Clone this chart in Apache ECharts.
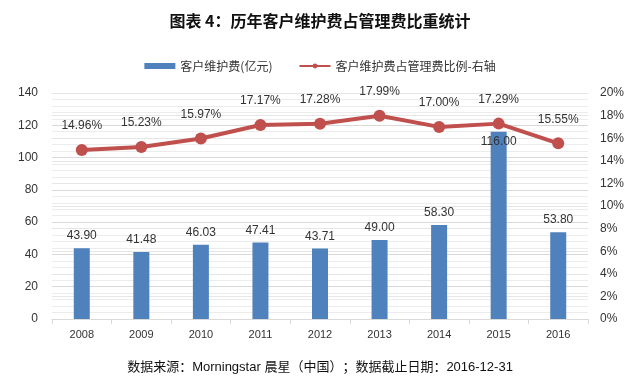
<!DOCTYPE html>
<html>
<head>
<meta charset="utf-8">
<script src="https://cdn.jsdelivr.net/npm/echarts@6/dist/echarts.min.js"></script>
<style>
html,body{margin:0;padding:0;background:#fff;}
#c{width:640px;height:381px;}
</style>
</head>
<body>
<div id="c"></div>
<script>
const categories = ['2008','2009','2010','2011','2012','2013','2014','2015','2016'];
const feeValues = [43.90, 41.48, 46.03, 47.41, 43.71, 49.00, 58.30, 116.00, 53.80];
const ratioValues = [14.96, 15.23, 15.97, 17.17, 17.28, 17.99, 17.00, 17.29, 15.55];
const leftTicks = [0, 140, 20];
const rightTicks = [0, 20, 2];
const titleText = '图表 4：历年客户维护费占管理费比重统计';
const sourceText = '数据来源：Morningstar 晨星（中国）；数据截止日期：2016-12-31';
const seriesNames = ['客户维护费(亿元)', '客户维护费占管理费比例-右轴'];

const FONT = '"Liberation Sans", Arial, "Noto Sans CJK SC", sans-serif';
const chart = echarts.init(document.getElementById('c'));
chart.setOption({
  animation: false,
  textStyle: {fontFamily: FONT},
  title: [
    {text: titleText, left: 'center', top: 8,
     textStyle: {fontSize: 16, fontWeight: 'bold', color: '#111', fontFamily: '"Noto Sans CJK SC", sans-serif'}},
    {text: sourceText, left: 'center', top: 356,
     textStyle: {fontSize: 13, fontWeight: 'normal', color: '#111', fontFamily: FONT}}
  ],
  legend: {
    top: 55, left: 'center', itemGap: 26, itemWidth: 31, itemHeight: 6,
    textStyle: {fontSize: 12, color: '#333', fontFamily: '"Noto Sans CJK SC", sans-serif'},
    data: [
      {name: seriesNames[0], icon: 'rect'},
      {name: seriesNames[1]}
    ]
  },
  grid: {left: 52, right: 52, top: 93, bottom: 62},
  xAxis: {
    type: 'category', data: categories,
    axisLine: {lineStyle: {color: '#d9d9d9'}},
    axisTick: {show: true, alignWithLabel: false, lineStyle: {color: '#d9d9d9'}},
    axisLabel: {color: '#333', fontSize: 11, margin: 10},
    splitLine: {show: false}
  },
  yAxis: [
    {type: 'value', min: leftTicks[0], max: leftTicks[1], interval: leftTicks[2],
     axisLine: {show: false}, axisTick: {show: false},
     axisLabel: {color: '#333', fontSize: 12, margin: 14},
     splitLine: {lineStyle: {color: '#d9d9d9'}},
     minorTick: {show: false, splitNumber: 5},
     minorSplitLine: {show: true, lineStyle: {color: '#ececec'}}
    },
    {type: 'value', min: rightTicks[0], max: rightTicks[1], interval: rightTicks[2],
     axisLine: {show: false}, axisTick: {show: false},
     axisLabel: {color: '#333', fontSize: 12, margin: 12, formatter: v => v + '%'},
     splitLine: {lineStyle: {color: '#e6e6e6'}}
    }
  ],
  series: [
    {
      name: seriesNames[0], type: 'bar', yAxisIndex: 0, barWidth: 16,
      itemStyle: {color: '#4F81BD'},
      data: feeValues.map((v, i) => ({
        value: v,
        label: i === 7 ? {position: 'insideTop', distance: 4} : undefined
      })),
      label: {show: true, position: 'top', distance: 6, color: '#333', fontSize: 12,
              formatter: p => p.value.toFixed(2)}
    },
    {
      name: seriesNames[1], type: 'line', yAxisIndex: 1, z: 5,
      symbol: 'circle', symbolSize: 12,
      lineStyle: {color: '#C0504D', width: 4},
      itemStyle: {color: '#C0504D'},
      data: ratioValues,
      label: {show: true, position: 'top', distance: 12, color: '#333', fontSize: 12,
              formatter: p => p.value.toFixed(2) + '%'}
    }
  ]
});
</script>
</body>
</html>
